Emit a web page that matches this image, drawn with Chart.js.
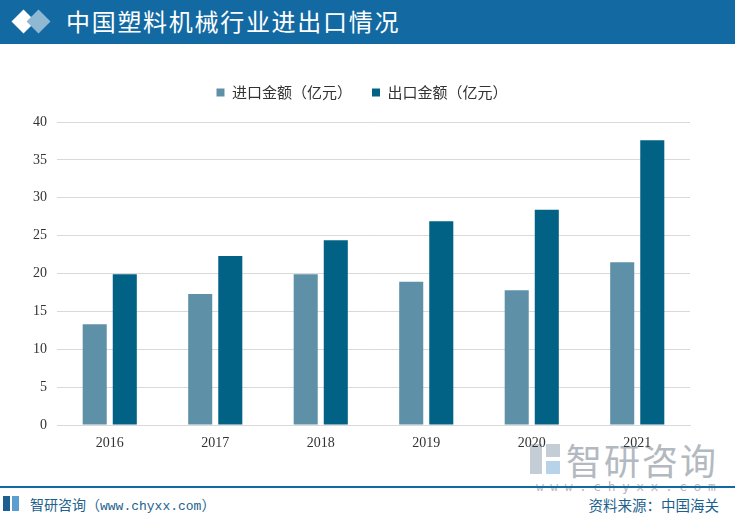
<!DOCTYPE html>
<html>
<head>
<meta charset="utf-8">
<script src="https://cdn.jsdelivr.net/npm/chart.js@4"></script>
<style>
  html, body { margin: 0; padding: 0; background: #fff; }
  #page { position: relative; width: 735px; height: 517px; overflow: hidden; font-family: "Noto Sans CJK SC", sans-serif; }
  #header { position: absolute; left: 0; top: 0; width: 735px; height: 44px; background: #136aa3; }
  #title { position: absolute; left: 66px; top: 4px; color: #fff; font-size: 24px; line-height: 34px; letter-spacing: 1.7px; }
  .dia { position: absolute; width: 17px; height: 17px; transform: rotate(45deg); }
  #wrap { position: absolute; left: 0; top: 0; width: 735px; height: 517px; }
  #footline { position: absolute; left: 0; top: 486px; width: 735px; height: 2px; background: #136aa3; }
  #footleft { position: absolute; left: 30px; top: 494px; font-size: 14px; color: #1d5f8e; }
  #footleft span { font-family: "Liberation Mono", monospace; font-size: 13px; }
  #footright { position: absolute; right: 16px; top: 494px; font-size: 14.5px; color: #1d5f8e; }
  #wmtext { position: absolute; left: 566px; top: 433px; font-size: 36px; color: #b3b9c0; letter-spacing: 2px; }
  #wmurl { position: absolute; left: 536px; top: 479px; font-size: 13px; color: #b3b9c0; letter-spacing: 6.5px; font-family: "DejaVu Sans Mono", monospace; }
</style>
</head>
<body>
<div id="page">
  <div id="header">
    <div class="dia" style="left:15px; top:13px; background:#fff;"></div>
    <div class="dia" style="left:30px; top:13px; background:#8fb8d3;"></div>
    <div id="title">中国塑料机械行业进出口情况</div>
  </div>
  <div style="position:absolute; left:530px; top:444px; width:12px; height:30px; background:#c4ccd6;"></div>
  <div style="position:absolute; left:546px; top:444px; width:14px; height:13px; background:#c4ccd6;"></div>
  <div style="position:absolute; left:546px; top:461px; width:14px; height:13px; background:#b6d3ea;"></div>
  <div id="wmtext">智研咨询</div>
  <div id="wmurl">www.chyxx.com</div>
  <div id="footline"></div>
  <div style="position:absolute; left:3px; top:496px; width:7px; height:15px; background:#1d5f8e;"></div>
  <div style="position:absolute; left:12px; top:496px; width:7px; height:15px; background:#5a9fd0;"></div>
  <div id="footleft">智研咨询（<span>www.chyxx.com</span>）</div>
  <div id="footright">资料来源：中国海关</div>
  <div id="wrap"><canvas id="chart"></canvas></div>
</div>
<script>
// ── DATA ──
const years        = ['2016', '2017', '2018', '2019', '2020', '2021'];
const importValues = [13.3, 17.3, 19.9, 18.9, 17.8, 21.5];
const exportValues = [19.9, 22.3, 24.4, 26.9, 28.4, 37.6];
const importLabel  = '进口金额（亿元）';
const exportLabel  = '出口金额（亿元）';

// extra gap under the legend, and nudge it a bit to the right
const legendTweak = {
  id: 'legendTweak',
  beforeInit(chart) {
    const fit = chart.legend.fit;
    chart.legend.fit = function () {
      fit.bind(chart.legend)();
      this.height += 12;
    };
  },
  afterLayout(chart) {
    chart.legend.left += 12;
    chart.legend.right += 12;
  }
};

const ctx = document.getElementById('chart').getContext('2d');
new Chart(ctx, {
  type: 'bar',
  data: {
    labels: years,
    datasets: [
      { label: importLabel, data: importValues, backgroundColor: '#5e91a8' },
      { label: exportLabel, data: exportValues, backgroundColor: '#026285' }
    ]
  },
  options: {
    responsive: true,
    maintainAspectRatio: false,
    animation: false,
    datasets: { bar: { categoryPercentage: 0.57, barPercentage: 0.8 } },
    layout: { padding: { left: 10, right: 45, top: 65, bottom: 62 } },
    plugins: {
      tooltip: { enabled: false },
      legend: {
        position: 'top',
        labels: {
          boxWidth: 8, boxHeight: 8, padding: 20, color: '#333',
          font: { family: '"Noto Sans CJK SC", sans-serif', size: 15 }
        }
      }
    },
    scales: {
      x: {
        grid: { display: false },
        border: { color: '#d9d9d9' },
        ticks: { color: '#333', font: { family: '"Liberation Serif", serif', size: 14 }, padding: 2 },
        afterFit: s => { s.height = 30; }
      },
      y: {
        min: 0, max: 40,
        ticks: { stepSize: 5, color: '#333', font: { family: '"Liberation Serif", serif', size: 14 }, padding: 10 },
        grid: { color: '#d9d9d9', drawTicks: false },
        border: { display: false },
        afterFit: s => { s.width = 47; }
      }
    }
  },
  plugins: [legendTweak]
});
</script>
</body>
</html>
